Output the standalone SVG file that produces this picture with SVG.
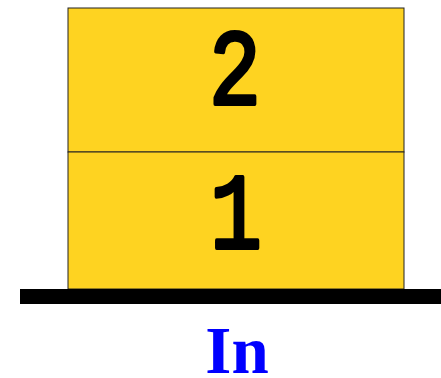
<svg xmlns="http://www.w3.org/2000/svg" width="441" height="378" viewBox="0 0 441 378">
<style>
.box{fill:#fed321;stroke:#222;stroke-width:1}
.num{font-family:"Liberation Mono",monospace;font-size:108px;fill:#000;stroke:#000;stroke-width:4;stroke-linejoin:round;stroke-linecap:round;text-anchor:middle}
.lbl{font-family:"Liberation Serif",serif;font-weight:bold;font-size:67px;fill:#0000ff;text-anchor:middle}
</style>
<rect width="441" height="378" fill="#fff"/>
<g id="box2"><rect class="box" x="68" y="8" width="336" height="144"/><text class="num" transform="translate(235,104) scale(0.8,1)">2</text></g>
<g id="box1"><rect class="box" x="68" y="152" width="336" height="137"/><text class="num" transform="translate(236,248) scale(0.8,1)">1</text></g>
<g id="base"><rect x="20" y="289" width="421" height="15" fill="#000"/></g>
<g id="label"><text class="lbl" x="237" y="373">In</text></g>
<g id="connectors"></g>
</svg>
